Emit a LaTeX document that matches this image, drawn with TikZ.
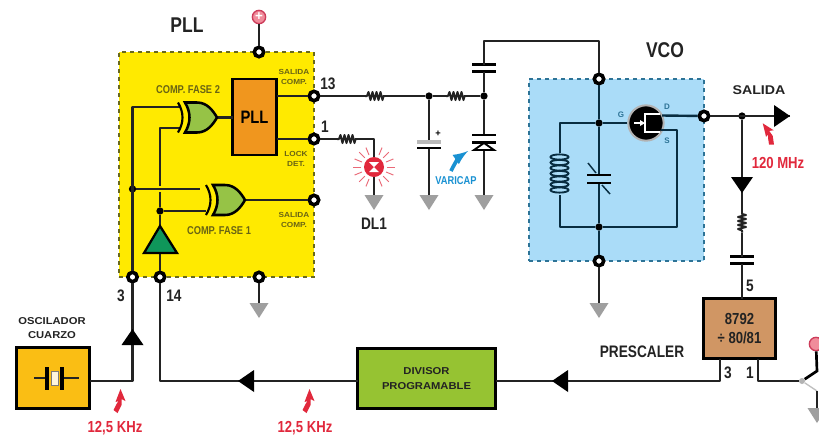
\documentclass[tikz,border=0pt]{standalone}
\usepackage{fontspec}
\setmainfont{Liberation Sans}
\newfontfamily\narrowf[FakeStretch=0.82]{Liberation Sans}
\newfontfamily\widef[FakeStretch=1.12]{Liberation Sans}
\usetikzlibrary{arrows,positioning}
\newcommand{\px}{0.75pt}
\definecolor{plcyellow}{RGB}{255,234,0}
\definecolor{plcedge}{RGB}{105,105,30}
\definecolor{vcoblue}{RGB}{170,220,248}
\definecolor{vcoedge}{RGB}{45,115,150}
\definecolor{vcowire}{RGB}{8,45,65}
\definecolor{pllorange}{RGB}{240,150,30}
\definecolor{gategreen}{RGB}{150,195,70}
\definecolor{bufgreen}{RGB}{15,150,90}
\definecolor{oscamber}{RGB}{250,190,20}
\definecolor{divgreen}{RGB}{150,195,50}
\definecolor{pretan}{RGB}{208,150,100}
\definecolor{inkdark}{RGB}{35,35,35}
\definecolor{compolive}{RGB}{105,100,20}
\definecolor{hzred}{RGB}{225,40,60}
\definecolor{vblue}{RGB}{25,145,210}
\tikzset{
  wire/.style={draw=inkdark,line width=1.8pt,line join=round},
  vwire/.style={draw=vcowire,line width=1.8pt,line join=round},
  boxn/.style={rectangle,inner sep=0pt,outer sep=0pt},
  padn/.style={circle,draw=black,fill=white,line width=2.7pt,minimum size=7pt,inner sep=0pt},
  dotn/.style={circle,fill=black,minimum size=5.5pt,inner sep=0pt},
  vccn/.style={circle,draw={rgb,255:red,205;green,60;blue,90},fill={rgb,255:red,240;green,140;blue,155},line width=1pt,
    text=white,minimum size=10pt,inner sep=0pt,font=\bfseries\fontsize{10}{10}\selectfont},
  titlel/.style={inner sep=0pt,text=inkdark,font=\narrowf\bfseries\fontsize{16}{16}\selectfont},
  numl/.style={inner sep=0pt,text=inkdark,font=\narrowf\bfseries\fontsize{12.5}{13}\selectfont},
  redl/.style={inner sep=0pt,text=hzred,font=\narrowf\bfseries\fontsize{12}{13}\selectfont},
  capl/.style={inner sep=0pt,text=inkdark,align=center,font=\widef\bfseries\fontsize{7.5}{10.5}\selectfont},
  tinyl/.style={inner sep=0pt,text=compolive,align=center,font=\widef\bfseries\fontsize{5.5}{7.5}\selectfont},
  compl/.style={inner sep=0pt,text=compolive,font=\narrowf\bfseries\fontsize{8.5}{9}\selectfont},
  gqdl/.style={inner sep=0pt,text=vcoedge,font=\bfseries\fontsize{6}{6}\selectfont},
  resz/.pic={
    \draw[wire,line width=1.5pt] (-10,0) coordinate (-w) -- (-8,0) -- (-6.5,-4) -- (-4.5,4) -- (-2.5,-4) -- (-.5,4)
      -- (1.5,-4) -- (3.5,4) -- (5.5,-4) -- (7.5,4) -- (8.5,0) -- (10,0) coordinate (-e);},
  capz/.pic={
    \draw[black,line width=2pt] (-12,-3.5) -- (12,-3.5) (-12,3.5) -- (12,3.5);
    \coordinate (-n) at (0,-3.5); \coordinate (-s) at (0,3.5);},
  gnd/.pic={
    \fill[gray!75] (-9.5,0) -- (9.5,0) -- (0,15) -- cycle;
    \coordinate (-t) at (0,0);},
  tipz/.pic={\fill[black] (-16,-11) -- (0,0) -- (-16,11) -- cycle;},
  xorg/.pic={
    \filldraw[fill=gategreen,draw=black,line width=1.9pt] (-32,-15) .. controls (-26,-5) and (-26,5) .. (-32,15) -- (-20,15)
      .. controls (-10,15) and (-4,7) .. (0,0) .. controls (-4,-7) and (-10,-15) .. (-20,-15) -- cycle;
    \draw[black,line width=1.6pt] (-39,-15) .. controls (-33,-5) and (-33,5) .. (-39,15);},
  zapz/.pic={
    \fill[hzred] (5,-12) -- (10,0) -- (6,-2) -- (6,4) -- (2,12) -- (-2,9) -- (1,3) -- (3,0) -- (0,1) -- cycle;},
}
\begin{document}
\begin{tikzpicture}[x=\px,y=-\px]
\path[use as bounding box,clip] (0,0) rectangle (819,437);
\fill[white] (0,0) rectangle (819,437);
% boxes
\node[boxn,fill=plcyellow,draw=plcedge,dashed,line width=1pt,minimum width=195*\px,minimum height=225*\px] (plc) at (216.5,164.5) {};
\node[boxn,fill=vcoblue,draw=vcoedge,dashed,line width=1pt,minimum width=175*\px,minimum height=182*\px] (vco) at (616.5,170) {};
\node[boxn,fill=pllorange,draw=black,line width=2.2pt,minimum width=44*\px,minimum height=76*\px,
  font=\narrowf\bfseries\fontsize{13.5}{14}\selectfont] (pll) at (254.5,117) {PLL};
\node[boxn,fill=oscamber,draw=black,line width=2.4pt,minimum width=73*\px,minimum height=61*\px] (osc) at (53,378) {};
\node[boxn,fill=divgreen,draw=black,line width=2.4pt,minimum width=138*\px,minimum height=60*\px,align=center,
  font=\widef\bfseries\fontsize{7.5}{11}\selectfont,text=inkdark] (div) at (426.5,378.5) {DIVISOR\\PROGRAMABLE};
\node[boxn,fill=pretan,draw=black,line width=2.4pt,minimum width=72*\px,minimum height=60*\px,align=center,
  font=\narrowf\bfseries\fontsize{12}{14.5}\selectfont,text=inkdark] (pre) at (739.5,328.5) {8792\\÷ 80/81};
% pads
\node[vccn] (vcca) at (259,17) {+};
\node[padn] (ptop) at (259,52) {};
\node[padn] (pbot) at (259,277) {};
\node[padn] (p3) at (132.5,277) {};
\node[padn] (p14) at (160,277) {};
\node[padn] (p13) at (314,96) {};
\node[padn] (p1) at (314,139) {};
\node[padn] (pcmp) at (314,200) {};
\node[padn] (pv1) at (599,79) {};
\node[padn] (pv2) at (599,261) {};
\node[padn] (pout) at (704,116) {};
% dots
\node[dotn] (d3) at (132.5,189) {};
\node[dotn] (d14) at (160,211) {};
\node[dotn] (n1) at (429,96) {};
\node[dotn] (n2) at (484,96) {};
\node[dotn] (jt) at (599,123) {};
\node[dotn] (jb) at (599,227) {};
\node[dotn] (nout) at (742,116) {};
% gates
\coordinate (xai) at (181,107); \coordinate (xaj) at (181,128);
\coordinate (xbi) at (200,189); \coordinate (xbj) at (206,211);
\coordinate (xao) at (217,117.5); \coordinate (xbo) at (245,200);
\coordinate (ja) at (160,186); \coordinate (jb2) at (160,192);
\draw[wire] (p3) |- (xai);
\draw[wire] (p14) -- (d14) -- (jb2);
\draw[wire] (ja) |- (xaj);
\draw[wire] (d3) -- (xbi);
\draw[wire] (d14) -- (xbj);
\draw[wire] (xao) -- (pll.west |- xao);
\draw[wire] (xbo) -- (pcmp);
\draw[wire] (pll.east |- p13) -- (p13);
\draw[wire] (pll.east |- p1) -- (p1);
\pic (xa) at (217,117.5) {xorg};
\pic (xb) at (245,200) {xorg};
\filldraw[fill=bufgreen,draw=black,line width=1.7pt] (160,226) -- (177,253) -- (144,253) -- cycle;
% power and ground
\pic (g1) at (259,303) {gnd};
\draw[wire] (vcca) -- (ptop);
\draw[wire] (pbot) -- (g1-t);
% output 13, filter
\pic (r1) at (375,96) {resz};
\pic (r2) at (456,96) {resz};
\draw[wire] (p13) -- (r1-w);
\draw[wire] (r1-e) -- (n1) -- (r2-w);
\draw[wire] (r2-e) -- (n2);
\pic (c1) at (484,68) {capz};
\coordinate (ct1) at (484,41); \coordinate (ct2) at (599,41);
\draw[wire] (n2) -- (c1-s);
\draw[wire] (c1-n) -- (ct1) -- (ct2) -- (pv1);
% polarised capacitor
\pic (g2) at (429,195) {gnd};
\coordinate (cpa) at (429,142); \coordinate (cpb) at (429,148);
\draw[wire] (n1) -- (cpa);
\draw[wire] (cpb) -- (g2-t);
\draw[gray!55,line width=2.4pt] (417,142) -- (441,142);
\draw[black,line width=2.2pt] (417,148) -- (441,148);
\node[inner sep=0pt,font=\bfseries\fontsize{7}{7}\selectfont] (cpp) at (438,134) {+};
% varicap
\pic (g3) at (484,195) {gnd};
\coordinate (vca) at (484,135); \coordinate (vcb) at (484,150);
\draw[wire] (n2) -- (vca);
\draw[wire] (vcb) -- (g3-t);
\draw[black,line width=2pt] (472,135) -- (496,135) (472,142.5) -- (496,142.5);
\filldraw[fill=white,draw=black,line width=1.4pt] (484,143) -- (494,150) -- (474,150) -- cycle;
\coordinate (vaa) at (451,171); \coordinate (vab) at (468,151);
\draw[-latex,vblue,line width=2.8pt] (vaa) to[bend left=15] (vab);
\node[inner sep=0pt,text=vblue,font=\narrowf\bfseries\fontsize{8.5}{9}\selectfont] (vcl) at (456,181) {VARICAP};
% led
\pic (r3) at (347,139) {resz};
\coordinate (lc) at (374,139);
\pic (g4) at (374,195) {gnd};
\node[circle,fill=hzred,minimum size=15pt,inner sep=0pt] (led) at (374,167) {};
\foreach \a in {0,22.5,...,337.5}
  \draw[hzred!70,line width=.7pt] (led.center) ++(\a:13) -- ++(\a:8);
\draw[wire] (p1) -- (r3-w);
\draw[wire] (r3-e) -- (lc) -- (led);
\draw[wire] (led) -- (g4-t);
\fill[white] (369,162) -- (379,162) -- (374,167) -- cycle;
\fill[white] (369,172) -- (379,172) -- (374,167) -- cycle;
\node[numl] (dl1) at (374,224) {DL1};
% vco
\pic (g5) at (599,303) {gnd};
\coordinate (cva) at (599,175); \coordinate (cvb) at (599,183);
\coordinate (ll1) at (560,123); \coordinate (ll2) at (560,227);
\coordinate (lca) at (560,153); \coordinate (lcb) at (560,195);
\coordinate (sr1) at (677,130); \coordinate (sr2) at (677,227);
\coordinate (qfd) at (662,115.5); \coordinate (qfs) at (661,130);
\node[circle,fill=black,draw=gray!60,line width=1.5pt,minimum size=26.5pt,inner sep=0pt] (qf) at (646,123) {};
\draw[vwire] (pv1) -- (jt) -- (cva);
\draw[vwire] (cvb) -- (jb) -- (pv2);
\draw[wire] (pv2) -- (g5-t);
\draw[vwire] (qf) -- (jt) -- (ll1) -- (lca);
\draw[vwire] (lcb) -- (ll2) -- (jb) -- (sr2) -- (sr1) -- (qfs);
\draw[vwire] (qfd) -- (pout);
\foreach \yy in {157,162.5,168,173.5,179,184.5,190}
  \draw[vcowire,line width=1.4pt] (559.5,\yy) ellipse (9 and 2.6);
\draw[black,line width=2.2pt] (587,175) -- (611,175) (587,183) -- (611,183);
\draw[vcowire,line width=1.1pt] (588,163) -- (596,173) (602,185) -- (610,194);
% mosfet inside
\draw[white,line width=1pt] (634,123) -- (642,123);
\fill[white] (645,123) -- (640,120) -- (640,126) -- cycle;
\draw[white,line width=1pt] (645,113) -- (645,133) (645,114) -- (660,114) (645,132) -- (660,132);
\fill[black] (648,117) rectangle (660,129);
\node[gqdl] (qg) at (621,115) {G};
\node[gqdl] (qd) at (667,107) {D};
\node[gqdl] (qs) at (667,141) {S};
% output
\coordinate (otip) at (790,116);
\draw[wire] (pout) -- (otip);
\pic at (otip) {tipz};
\coordinate (dtip) at (742,193);
\draw[wire] (nout) -- (dtip);
\pic[rotate=-90] at (dtip) {tipz};
\pic[rotate=90] (r4) at (742,222.5) {resz};
\pic (c3) at (742,260) {capz};
\draw[wire] (dtip) -- (r4-e);
\draw[wire] (r4-w) -- (c3-n);
\draw[wire] (c3-s) -- (pre.north -| c3-s);
% prescaler to divisor
\coordinate (pa) at (720,359); \coordinate (pb) at (720,381);
\coordinate (pc) at (758,359); \coordinate (pd) at (758,381);
\coordinate (ltip) at (552,381);
\draw[wire] (pa) -- (pb) -- (div.east |- pb);
\pic[rotate=180] at (ltip) {tipz};
% divisor to pin 14
\coordinate (lb) at (160,381); \coordinate (ctip) at (238,381);
\draw[wire] (div.west |- lb) -- (lb) -- (p14);
\pic[rotate=180] at (ctip) {tipz};
% oscillator to pin 3
\coordinate (ocr) at (132.5,381); \coordinate (utip) at (132.5,329);
\draw[wire] (osc.east |- ocr) -- (ocr) -- (p3);
\pic[rotate=90] at (utip) {tipz};
\coordinate (xa1) at (34,378); \coordinate (xa2) at (47,378);
\coordinate (xb1) at (62,378); \coordinate (xb2) at (79,378);
\draw[wire] (xa1) -- (xa2) (xb1) -- (xb2);
\draw[black,line width=2.4pt] (47,367) -- (47,390) (62,367) -- (62,390);
\fill[white!85!oscamber,draw=inkdark!60,line width=.5pt] (51,371) rectangle (58,385);
% switch on the right
\node[circle,fill=gray!60,minimum size=4.5pt,inner sep=0pt] (sw) at (802,381) {};
\node[vccn] (vccb) at (816,344) {};
\coordinate (swa) at (817,371); \coordinate (swb) at (817,391); \coordinate (swc) at (817,408);
\draw[wire] (pc) -- (pd) -- (sw);
\draw[black,line width=2pt] (sw) -- (swa) -- (vccb);
\draw[gray!50,line width=1pt] (sw) -- (swb);
\draw[wire] (swb) -- (swc);
\pic (g6) at (817,408) {gnd};
% labels
\node[titlel] (lpll) at (187,25) {PLL};
\node[titlel] (lvco) at (665,50) {VCO};
\node[compl] (lfa) at (188,90) {COMP. FASE 2};
\node[compl] (lfb) at (219,231) {COMP. FASE 1};
\node[tinyl] (lsa) at (294,77) {SALIDA\\COMP.};
\node[tinyl] (lld) at (296,159) {LOCK\\DET.};
\node[tinyl] (lsb) at (294,220) {SALIDA\\COMP.};
\node[numl] (l13) at (328,84) {13};
\node[numl] (l1) at (325,127) {1};
\node[numl] (l3) at (121,296) {3};
\node[numl] (l14) at (174,296) {14};
\node[numl] (l5) at (750,286) {5};
\node[numl] (l3b) at (728,373) {3};
\node[numl] (l1b) at (750,373) {1};
\node[numl] (lpre) at (642,352) {PRESCALER};
\node[capl,font=\widef\bfseries\fontsize{9.5}{10.5}\selectfont] (lout) at (759,90) {SALIDA};
\node[capl] (losc) at (52,328.5) {OSCILADOR\\CUARZO};
\node[redl] (lmhz) at (778,163) {120 MHz};
\node[redl] (lkha) at (115,428) {12,5 KHz};
\node[redl] (lkhb) at (305,428) {12,5 KHz};
\pic at (115.5,401) {zapz};
\pic at (304.5,401) {zapz};
\pic[rotate=35] at (765.5,136) {zapz};
\end{tikzpicture}
\end{document}
